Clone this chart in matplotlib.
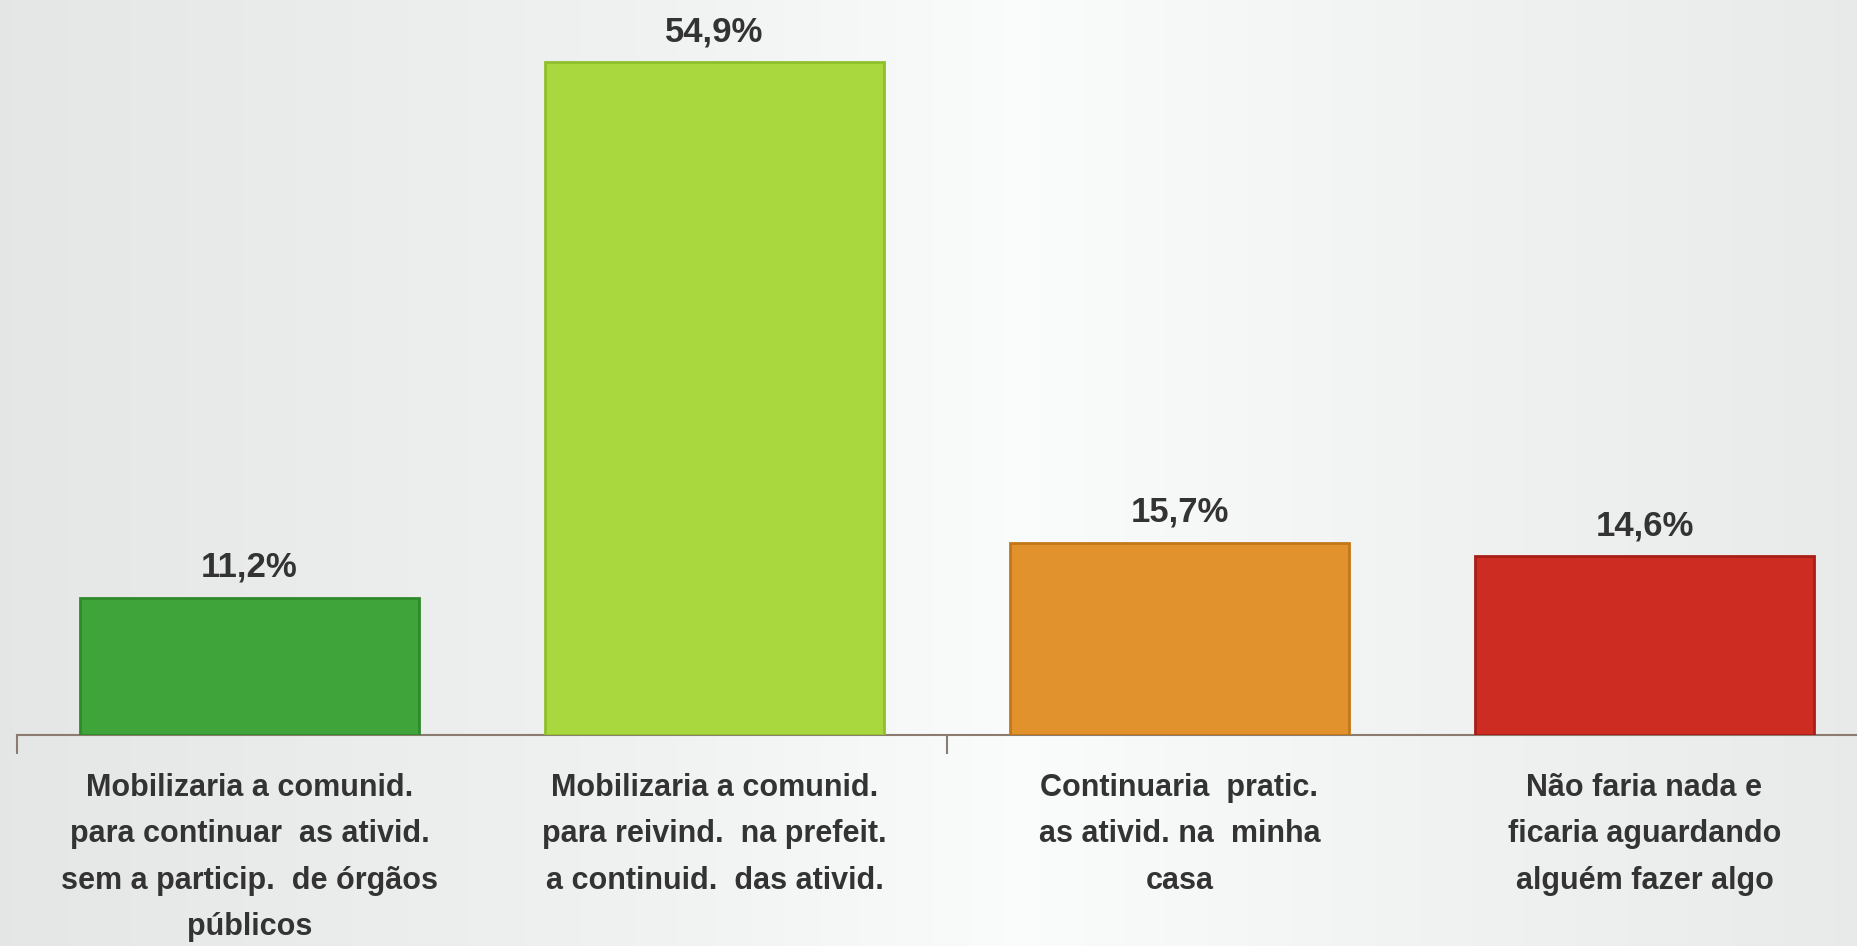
import numpy as np
import matplotlib
matplotlib.use("Agg")
import matplotlib.pyplot as plt

categories = [
    "Mobilizaria a comunid.\npara continuar  as ativid.\nsem a particip.  de órgãos\npúblicos",
    "Mobilizaria a comunid.\npara reivind.  na prefeit.\na continuid.  das ativid.",
    "Continuaria  pratic.\nas ativid. na  minha\ncasa",
    "Não faria nada e\nficaria aguardando\nalguém fazer algo",
]
values = [11.2, 54.9, 15.7, 14.6]
value_labels = ["11,2%", "54,9%", "15,7%", "14,6%"]
colors = ["#3fa53a", "#a9d83e", "#e2922c", "#cc2c22"]
edges = ["#2f8a2c", "#8fbf2c", "#c27818", "#a81e18"]

plt.rcParams['font.family'] = ['Liberation Sans Narrow', 'Liberation Sans', 'DejaVu Sans']

fig = plt.figure(figsize=(18.58, 9.46), dpi=100)

# soft background: greyish at the sides, white in the middle
bg = fig.add_axes([0, 0, 1, 1], zorder=-10)
grad = np.array([0.0, 0.35, 0.55, 0.75, 1.0])
shade = np.interp(np.linspace(0, 1, 400), grad, [0.90, 0.945, 0.985, 0.95, 0.915])
img = np.dstack([shade - 0.005, shade + 0.005, shade]).repeat(2, axis=0)
bg.imshow(np.clip(img, 0, 1), aspect='auto', extent=[0, 1, 0, 1])
bg.axis('off')

ax = fig.add_axes([17 / 1858, 1 - 735 / 946, 1860 / 1858, 735 / 946])
ax.patch.set_alpha(0)

x = np.arange(len(values))
ax.bar(x, values, width=0.73, color=colors, edgecolor=edges, linewidth=2, zorder=3)

for xi, v, lab in zip(x, values, value_labels):
    ax.annotate(lab, (xi, v), xytext=(0, 10), textcoords='offset points',
                ha='center', va='bottom', fontsize=25, fontweight='bold', color='#333333')

ax.set_xlim(-0.5, 3.5)
ax.set_ylim(0, 60)

for s in ['top', 'right', 'left']:
    ax.spines[s].set_visible(False)
ax.spines['bottom'].set_color('#8c7c70')
ax.spines['bottom'].set_linewidth(1.5)
ax.set_yticks([])

ax.set_xticks([-0.5, 1.5, 3.5])
ax.set_xticklabels([])
ax.tick_params(axis='x', which='major', length=14, width=1.5, color='#8c7c70', direction='out')
ax.set_xticks(x, minor=True)
ax.set_xticklabels(categories, minor=True, fontsize=22, fontweight='bold',
                   color='#333333', linespacing=1.72, va='top')
ax.tick_params(axis='x', which='minor', length=0, pad=27)

fig.savefig('out.png', dpi=100)
